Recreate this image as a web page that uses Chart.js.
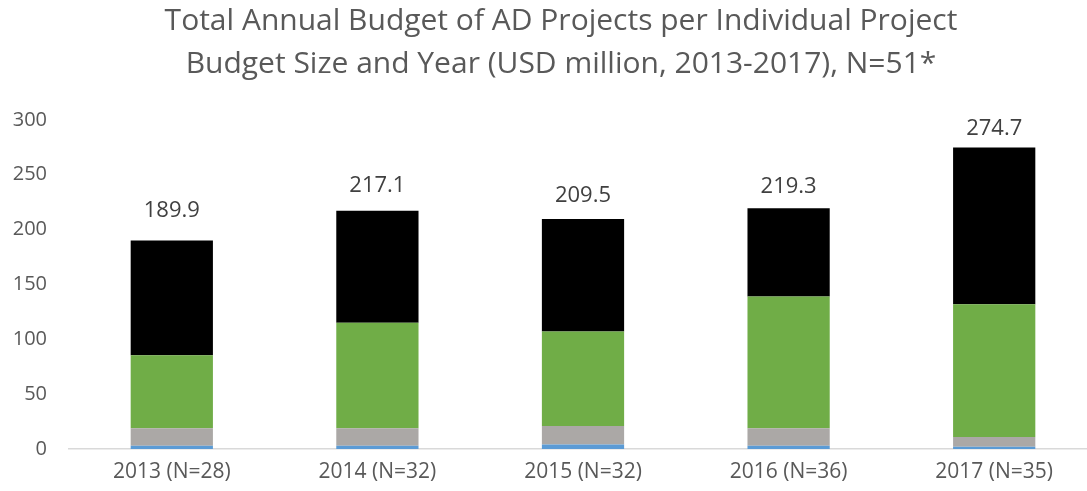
<!DOCTYPE html>
<html>
<head>
<meta charset="utf-8">
<script src="https://cdn.jsdelivr.net/npm/chart.js@4.4.1/dist/chart.umd.min.js"></script>
<style>
  html, body { margin: 0; padding: 0; background: #fff; overflow: hidden; }
  #wrap { width: 1122px; height: 491px; }
</style>
</head>
<body>
<div id="wrap"><canvas id="budgetChart" width="1122" height="491"></canvas></div>
<script>
// values (USD million)
var years = ['2013 (N=28)', '2014 (N=32)', '2015 (N=32)', '2016 (N=36)', '2017 (N=35)'];
var smallest = [3, 3, 4, 3, 2];
var small = [16, 16, 17, 16, 9];
var medium = [66.5, 96, 86, 120, 121];
var large = [104.4, 102.1, 102.5, 80.3, 142.7];
var totals = [189.9, 217.1, 209.5, 219.3, 274.7];
var yTicks = [0, 50, 100, 150, 200, 250, 300];

(function () {
  var textGrey = '#595959';

  // total labels above each stack (Excel put them at slightly uneven heights)
  var labelLift = [30, 25, 23, 22, 19];
  var totalLabels = {
    id: 'totalLabels',
    afterDatasetsDraw: function (chart) {
      var ctx = chart.ctx;
      var meta = chart.getDatasetMeta(chart.data.datasets.length - 1);
      var y = chart.scales.y;
      ctx.save();
      ctx.font = '22px "Open Sans"';
      ctx.fillStyle = '#404040';
      ctx.textAlign = 'center';
      ctx.textBaseline = 'middle';
      totals.forEach(function (t, i) {
        var bar = meta.data[i];
        ctx.fillText(t.toFixed(1), bar.x, y.getPixelForValue(t) - labelLift[i]);
      });
      ctx.restore();
    }
  };

  function ds(label, data, color) {
    return { label: label, data: data, backgroundColor: color, borderWidth: 0,
             barPercentage: 0.4, categoryPercentage: 1, stack: 'b' };
  }

  new Chart(document.getElementById('budgetChart'), {
    type: 'bar',
    data: {
      labels: years,
      datasets: [
        ds('< USD 1 million', smallest, '#5B9BD5'),
        ds('USD 1-5 million', small, '#ABA8A6'),
        ds('USD 5-20 million', medium, '#70AD47'),
        ds('> USD 20 million', large, '#000000')
      ]
    },
    options: {
      responsive: false,
      animation: false,
      layout: { padding: 0 },
      plugins: {
        legend: { display: false },
        tooltip: { enabled: false },
        title: {
          display: true,
          text: ['Total Annual Budget of AD Projects per Individual Project',
                 'Budget Size and Year (USD million, 2013-2017), N=51*'],
          color: textGrey,
          font: { family: '"Open Sans"', size: 30, weight: 'normal', lineHeight: 1.43 },
          padding: { top: 0, bottom: 34 }
        }
      },
      scales: {
        x: {
          stacked: true,
          grid: { display: false, drawTicks: false },
          border: { display: true, color: '#D9D9D9', width: 1.5 },
          ticks: { color: textGrey, font: { family: '"Open Sans"', size: 21 }, padding: 10 },
          afterFit: function (s) { s.height = 42; }
        },
        y: {
          stacked: true,
          min: 0,
          max: 300,
          afterBuildTicks: function (s) { s.ticks = yTicks.map(function (v) { return { value: v }; }); },
          grid: { display: false, drawTicks: false },
          border: { display: false },
          ticks: { color: textGrey, font: { family: '"Open Sans"', size: 20 }, padding: 22 },
          afterFit: function (s) { s.width = 69; }
        },
        // empty right-hand strip so the plot ends short of the canvas edge
        yRight: {
          position: 'right',
          min: 0,
          max: 300,
          grid: { display: false, drawTicks: false },
          border: { display: false },
          ticks: { display: false },
          afterFit: function (s) { s.width = 25; }
        }
      }
    },
    plugins: [totalLabels]
  });
})();
</script>
</body>
</html>
